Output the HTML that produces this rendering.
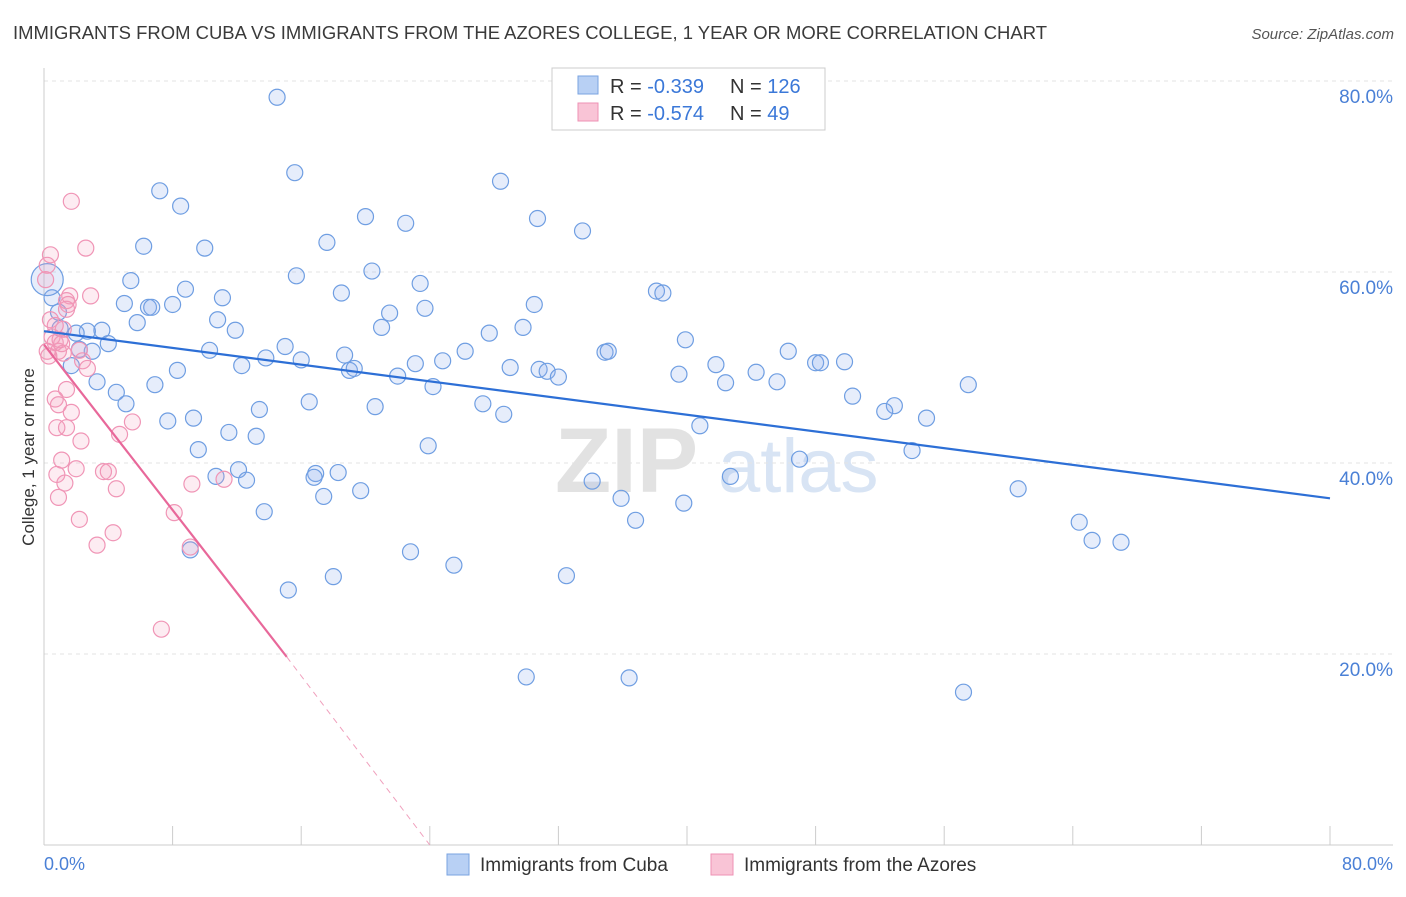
<!DOCTYPE html>
<html><head><meta charset="utf-8">
<style>
body{margin:0;background:#fff;font-family:"Liberation Sans",sans-serif;}
svg text{font-family:"Liberation Sans",sans-serif;}
</style></head>
<body>
<svg id="chart" width="1406" height="892" xmlns="http://www.w3.org/2000/svg">
<text x="13" y="39" font-size="18.5" fill="#3a3a3a" textLength="1034" lengthAdjust="spacingAndGlyphs">IMMIGRANTS FROM CUBA VS IMMIGRANTS FROM THE AZORES COLLEGE, 1 YEAR OR MORE CORRELATION CHART</text>
<text x="1394" y="39" font-size="15" fill="#555" font-style="italic" text-anchor="end">Source: ZipAtlas.com</text>
<g>
<text x="555" y="492" font-size="92" fill="#e2e2e2" font-family="Liberation Serif" font-weight="bold">ZIP</text>
<text x="718" y="492" font-size="76" fill="#d8e4f4">atlas</text>
</g>
<g id="grid"></g>
<g id="axes"></g>
<g id="marks"></g>
<text transform="translate(34,457) rotate(-90)" font-size="17" fill="#333" text-anchor="middle">College, 1 year or more</text>
<g>
<rect x="552" y="68" width="273" height="62" fill="#fff" stroke="#ccc"/>
<rect x="578" y="76" width="20" height="18" fill="#b8d0f4" stroke="#7aa3e0"/>
<rect x="578" y="103" width="20" height="18" fill="#f9c4d6" stroke="#ee92b4"/>
<text x="610" y="93" font-size="20" fill="#333">R = <tspan fill="#3b78d8">-0.339</tspan></text>
<text x="730" y="93" font-size="20" fill="#333">N = <tspan fill="#3b78d8">126</tspan></text>
<text x="610" y="120" font-size="20" fill="#333">R = <tspan fill="#3b78d8">-0.574</tspan></text>
<text x="730" y="120" font-size="20" fill="#333">N = <tspan fill="#3b78d8"> 49</tspan></text>
</g>
<g>
<rect x="447" y="854" width="22" height="21" fill="#b8d0f4" stroke="#7aa3e0"/>
<text x="480" y="871" font-size="19" fill="#333">Immigrants from Cuba</text>
<rect x="711" y="854" width="22" height="21" fill="#f9c4d6" stroke="#ee92b4"/>
<text x="744" y="871" font-size="19" fill="#333">Immigrants from the Azores</text>
</g>
</svg>
<script>
const yTicks=[20,40,60,80];
const xTickVals=[0,8,16,24,32,40,48,56,64,72,80];
const cubaX=[14.5,15.6,28.4,7.2,8.5,20.0,22.5,30.7,33.5,6.2,10.0,17.6,20.4,15.7,5.4,23.4,8.8,18.5,38.1,38.5,5.0,6.5,6.7,8.0,11.1,30.5,23.7,21.5,5.8,10.8,11.9,21.0,27.7,29.8,3.6,2.7,2.0,1.0,0.9,0.5,39.9,15.0,10.3,4.0,3.0,2.2,34.9,35.1,26.2,46.3,18.7,13.8,16.0,24.8,23.1,19.0,19.3,29.0,30.8,31.3,32.0,41.8,44.3,48.0,48.3,49.8,12.3,8.3,1.7,39.5,22.0,3.3,6.9,42.4,45.6,57.5,24.2,4.5,50.3,5.1,27.3,20.6,13.4,16.5,52.9,52.3,54.9,28.6,7.7,9.3,40.8,11.5,13.2,23.9,9.6,54.0,47.0,12.1,16.9,18.3,16.8,10.7,12.6,42.7,34.1,19.7,17.4,60.6,35.9,39.8,13.7,36.8,64.4,65.2,67.0,9.1,22.8,25.5,18.0,32.5,15.2,30.0,36.4,57.2,0.2];
const cubaY=[78.3,70.4,69.5,68.5,66.9,65.8,65.1,65.6,64.3,62.7,62.5,63.1,60.1,59.6,59.1,58.8,58.2,57.8,58.0,57.8,56.7,56.3,56.3,56.6,57.3,56.6,56.2,55.7,54.7,55.0,53.9,54.2,53.6,54.2,53.9,53.8,53.6,54.1,55.8,57.3,52.9,52.2,51.8,52.5,51.7,51.9,51.6,51.7,51.7,51.7,51.3,51.0,50.8,50.7,50.4,49.7,49.9,50.0,49.8,49.6,49.0,50.3,49.5,50.5,50.5,50.6,50.2,49.7,50.2,49.3,49.1,48.5,48.2,48.4,48.5,48.2,48.0,47.4,47.0,46.2,46.2,45.9,45.6,46.4,46.0,45.4,44.7,45.1,44.4,44.7,43.9,43.2,42.8,41.8,41.4,41.3,40.4,39.3,38.9,39.0,38.5,38.6,38.2,38.6,38.1,37.1,36.5,37.3,36.3,35.8,34.9,34.0,33.8,31.9,31.7,30.9,30.7,29.3,28.1,28.2,26.7,17.6,17.5,16.0,59.2];
const azX=[1.7,2.6,0.4,0.2,0.1,2.9,1.6,1.4,1.5,1.4,0.4,1.2,0.5,0.7,1.1,0.2,0.9,1.2,2.2,2.4,2.7,1.4,0.7,1.7,0.9,0.8,1.4,4.7,2.3,5.5,1.1,3.7,2.0,4.0,0.8,1.3,9.2,11.2,4.5,0.9,2.2,4.3,3.3,8.1,9.1,7.3,0.3,0.7,1.0];
const azY=[67.4,62.5,61.8,60.7,59.2,57.5,57.5,57.0,56.6,56.1,55.0,54.0,53.2,52.6,52.5,51.7,51.7,51.5,51.8,50.7,49.9,47.7,46.7,45.3,46.1,43.7,43.7,43.0,42.3,44.3,40.3,39.1,39.4,39.1,38.8,37.9,37.8,38.3,37.3,36.4,34.1,32.7,31.4,34.8,31.2,22.6,51.2,54.4,52.9];
const cubaTrend=[[0,53.8],[80,36.3]];
const azTrendSolid=[[0,52.4],[15.1,19.7]];
const azTrendDash=[[15.1,19.7],[24,0]];

const NS="http://www.w3.org/2000/svg";
const X=v=>44+v*16.075, Y=v=>845-v*9.55;
function mk(tag,attrs,parent){const e=document.createElementNS(NS,tag);for(const k in attrs)e.setAttribute(k,attrs[k]);parent.appendChild(e);return e;}
const grid=document.getElementById('grid'),axes=document.getElementById('axes'),marks=document.getElementById('marks');
yTicks.forEach(t=>{
  const l=mk('line',{x1:44,x2:1393,y1:Y(t),y2:Y(t),stroke:'#e3e3e3','stroke-dasharray':'4,4'},grid);
  
  
  const tx=mk('text',{x:1393,y:Y(t)+22,'font-size':19,fill:'#4a80d6','text-anchor':'end'},axes);
  tx.textContent=t.toFixed(1)+'%';
  
  
});
mk('line',{x1:44,x2:44,y1:68,y2:845,stroke:'#ccc'},axes);
mk('line',{x1:44,x2:1393,y1:845,y2:845,stroke:'#ccc'},axes);
xTickVals.forEach(t=>{
  const l=mk('line',{x1:X(t),x2:X(t),y1:826,y2:845,stroke:'#ccc'},axes);
  
  
});
[[0,'start',44],[80,'end',1393]].forEach(([t,a,x])=>{
  const tx=mk('text',{x:x,y:870,'font-size':18,fill:'#4a80d6','text-anchor':a},axes);
  tx.textContent=t.toFixed(1)+'%';
  
  
});
cubaX.forEach((x,i)=>{
  const c=mk('circle',{cx:X(x),cy:Y(cubaY[i]),r:i==cubaX.length-1?16:8,fill:'rgba(140,175,235,0.22)',stroke:'#6f9ee2','stroke-width':1.2},marks);
  
  
});
azX.forEach((x,i)=>{
  const c=mk('circle',{cx:X(x),cy:Y(azY[i]),r:8,fill:'rgba(245,160,190,0.2)',stroke:'#f095b6','stroke-width':1.2},marks);
  
  
});
const l1=mk('line',{x1:X(cubaTrend[0][0]),y1:Y(cubaTrend[0][1]),x2:X(cubaTrend[1][0]),y2:Y(cubaTrend[1][1]),stroke:'#2d6fd6','stroke-width':2.2},marks);


const l2=mk('line',{x1:X(azTrendSolid[0][0]),y1:Y(azTrendSolid[0][1]),x2:X(azTrendSolid[1][0]),y2:Y(azTrendSolid[1][1]),stroke:'#e8689a','stroke-width':2.2},marks);


const l3=mk('line',{x1:X(azTrendDash[0][0]),y1:Y(azTrendDash[0][1]),x2:X(azTrendDash[1][0]),y2:Y(azTrendDash[1][1]),stroke:'#f0a0bd','stroke-width':1,'stroke-dasharray':'6,5'},marks);


</script>
</body></html>
